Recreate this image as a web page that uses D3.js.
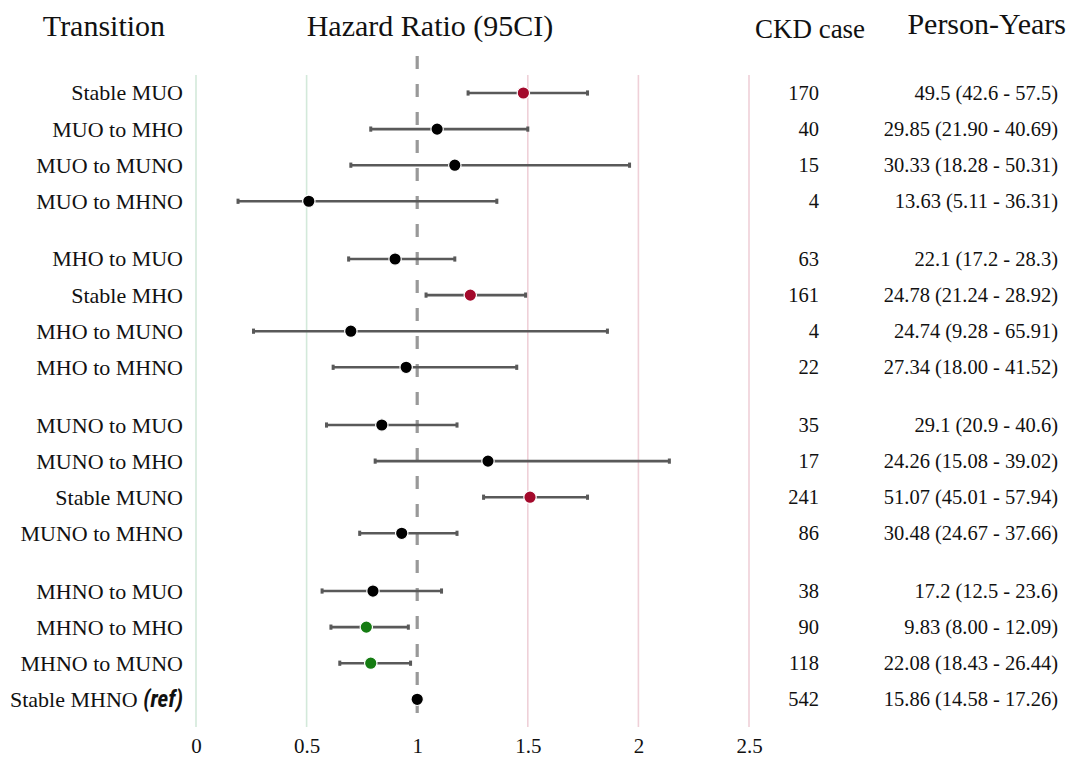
<!DOCTYPE html>
<html>
<head>
<meta charset="utf-8">
<script src="https://cdn.jsdelivr.net/npm/d3@7"></script>
<style>
  html, body { margin: 0; padding: 0; background: #ffffff; }
  svg { display: block; }
  text { font-family: "Liberation Serif", "DejaVu Serif", serif; fill: #111; }
</style>
</head>
<body>
<svg id="chart" width="1068" height="760"></svg>
<script>
// ---------------- data ----------------
const transitions = [
  "Stable MUO", "MUO to MHO", "MUO to MUNO", "MUO to MHNO",
  "MHO to MUO", "Stable MHO", "MHO to MUNO", "MHO to MHNO",
  "MUNO to MUO", "MUNO to MHO", "Stable MUNO", "MUNO to MHNO",
  "MHNO to MUO", "MHNO to MHO", "MHNO to MUNO", "Stable MHNO"
];
const groups = [0,0,0,0, 1,1,1,1, 2,2,2,2, 3,3,3,3];
const hr    = [1.48, 1.09, 1.17, 0.51, 0.90, 1.24, 0.70, 0.95, 0.84, 1.32, 1.51, 0.93, 0.80, 0.77, 0.79, 1.00];
const lower = [1.23, 0.79, 0.70, 0.19, 0.69, 1.04, 0.26, 0.62, 0.59, 0.81, 1.30, 0.74, 0.57, 0.61, 0.65, null];
const upper = [1.77, 1.50, 1.96, 1.36, 1.17, 1.49, 1.86, 1.45, 1.18, 2.14, 1.77, 1.18, 1.11, 0.96, 0.97, null];
const signif = ["up","none","none","none", "none","up","none","none", "none","none","up","none", "none","down","down","ref"];
const ckdCases = [170, 40, 15, 4, 63, 161, 4, 22, 35, 17, 241, 86, 38, 90, 118, 542];
const personYears = [
  "49.5 (42.6 - 57.5)", "29.85 (21.90 - 40.69)", "30.33 (18.28 - 50.31)", "13.63 (5.11 - 36.31)",
  "22.1 (17.2 - 28.3)", "24.78 (21.24 - 28.92)", "24.74 (9.28 - 65.91)", "27.34 (18.00 - 41.52)",
  "29.1 (20.9 - 40.6)", "24.26 (15.08 - 39.02)", "51.07 (45.01 - 57.94)", "30.48 (24.67 - 37.66)",
  "17.2 (12.5 - 23.6)", "9.83 (8.00 - 12.09)", "22.08 (18.43 - 26.44)", "15.86 (14.58 - 17.26)"
];
const xTicks = [0, 0.5, 1, 1.5, 2, 2.5];
const refLinesLow = [0, 0.5];
const refLinesHigh = [1.5, 2, 2.5];
const headers = ["Transition", "Hazard Ratio (95CI)", "CKD case", "Person-Years"];

// ---------------- layout ----------------
const groupGap = 0.6;
const rows = transitions.map((t, i) => ({
  label: t, pos: i + groups[i] * groupGap, hr: hr[i], lo: lower[i], hi: upper[i],
  sig: signif[i], cases: ckdCases[i], py: personYears[i]
}));

const svg = d3.select("#chart");
const x = d3.scaleLinear().domain([0, 2.5]).range([196, 749]);
const y = d3.scaleLinear().domain([0, 15 + 3 * groupGap]).range([93, 699.3]);
const color = d3.scaleOrdinal().domain(["up","down","none","ref"]).range(["#a3092b", "#157c12", "#000000", "#000000"]);

const lineTop = 75, lineBottom = 727;

// reference vertical lines
svg.append("g").selectAll("line").data(refLinesLow).join("line")
  .attr("x1", d => x(d)).attr("x2", d => x(d))
  .attr("y1", lineTop).attr("y2", lineBottom)
  .attr("stroke", "#d3e9da").attr("stroke-width", 1.6);
svg.append("g").selectAll("line").data(refLinesHigh).join("line")
  .attr("x1", d => x(d)).attr("x2", d => x(d))
  .attr("y1", lineTop).attr("y2", lineBottom)
  .attr("stroke", "#efd0d8").attr("stroke-width", 1.6);

// null line at HR = 1
svg.append("line")
  .attr("x1", x(1)).attr("x2", x(1))
  .attr("y1", 56).attr("y2", lineBottom)
  .attr("stroke", "#999999").attr("stroke-width", 3.2)
  .attr("stroke-dasharray", "13,15");

// axis
const axis = d3.axisBottom(x).tickValues(xTicks).tickSize(0).tickPadding(0)
  .tickFormat(d => String(d));
const axG = svg.append("g").attr("transform", "translate(0,738)").call(axis);
axG.select(".domain").remove();
axG.selectAll("text")
  .attr("font-family", "Liberation Serif, DejaVu Serif, serif")
  .attr("font-size", 21).attr("fill", "#111").attr("dy", "0.72em");

// error bars
const ci = rows.filter(r => r.lo != null);
svg.append("g").selectAll("line").data(ci).join("line")
  .attr("x1", d => x(d.lo)).attr("x2", d => x(d.hi))
  .attr("y1", d => y(d.pos)).attr("y2", d => y(d.pos))
  .attr("stroke", "#595959").attr("stroke-width", 2.6);
const caps = [];
ci.forEach(d => { caps.push({v: d.lo, pos: d.pos}); caps.push({v: d.hi, pos: d.pos}); });
svg.append("g").selectAll("rect").data(caps).join("rect")
  .attr("x", d => x(d.v) - 1.5).attr("y", d => y(d.pos) - 2.6)
  .attr("width", 3).attr("height", 5.2).attr("fill", "#595959");

// points
svg.append("g").selectAll("circle").data(rows).join("circle")
  .attr("cx", d => x(d.hr)).attr("cy", d => y(d.pos))
  .attr("r", 6.2)
  .attr("fill", d => color(d.sig))
  .attr("stroke", "#ffffff").attr("stroke-width", 1.2);

// row labels
const lab = svg.append("g").selectAll("text").data(rows).join("text")
  .attr("x", 183).attr("y", d => y(d.pos)).attr("dy", "0.34em")
  .attr("text-anchor", "end").attr("font-size", 22);
lab.each(function(d) {
  const t = d3.select(this);
  if (d.sig === "ref") {
    t.append("tspan").text(d.label + " ");
    t.append("tspan").text("(ref)")
      .style("font-family", "'Liberation Sans Narrow', 'Roboto Condensed', Roboto, sans-serif")
      .attr("font-weight", "bold").attr("font-style", "italic")
      .style("font-stretch", "condensed").attr("font-size", 23);
  } else {
    t.text(d.label);
  }
});

// CKD cases
svg.append("g").selectAll("text").data(rows).join("text")
  .attr("x", 819).attr("y", d => y(d.pos)).attr("dy", "0.34em")
  .attr("text-anchor", "end").attr("font-size", 20.5)
  .text(d => d.cases);

// person-years
svg.append("g").selectAll("text").data(rows).join("text")
  .attr("x", 1058).attr("y", d => y(d.pos)).attr("dy", "0.34em")
  .attr("text-anchor", "end").attr("font-size", 20.5)
  .text(d => d.py);

// headers
svg.append("text").attr("x", 104).attr("y", 36).attr("text-anchor", "middle")
  .attr("font-size", 30).text(headers[0]);
svg.append("text").attr("x", 430).attr("y", 36).attr("text-anchor", "middle")
  .attr("font-size", 30).text(headers[1]);
svg.append("text").attr("x", 810).attr("y", 38).attr("text-anchor", "middle")
  .attr("font-size", 27).text(headers[2]);
svg.append("text").attr("x", 1066).attr("y", 34).attr("text-anchor", "end")
  .attr("font-size", 30).text(headers[3]);
</script>
</body>
</html>
